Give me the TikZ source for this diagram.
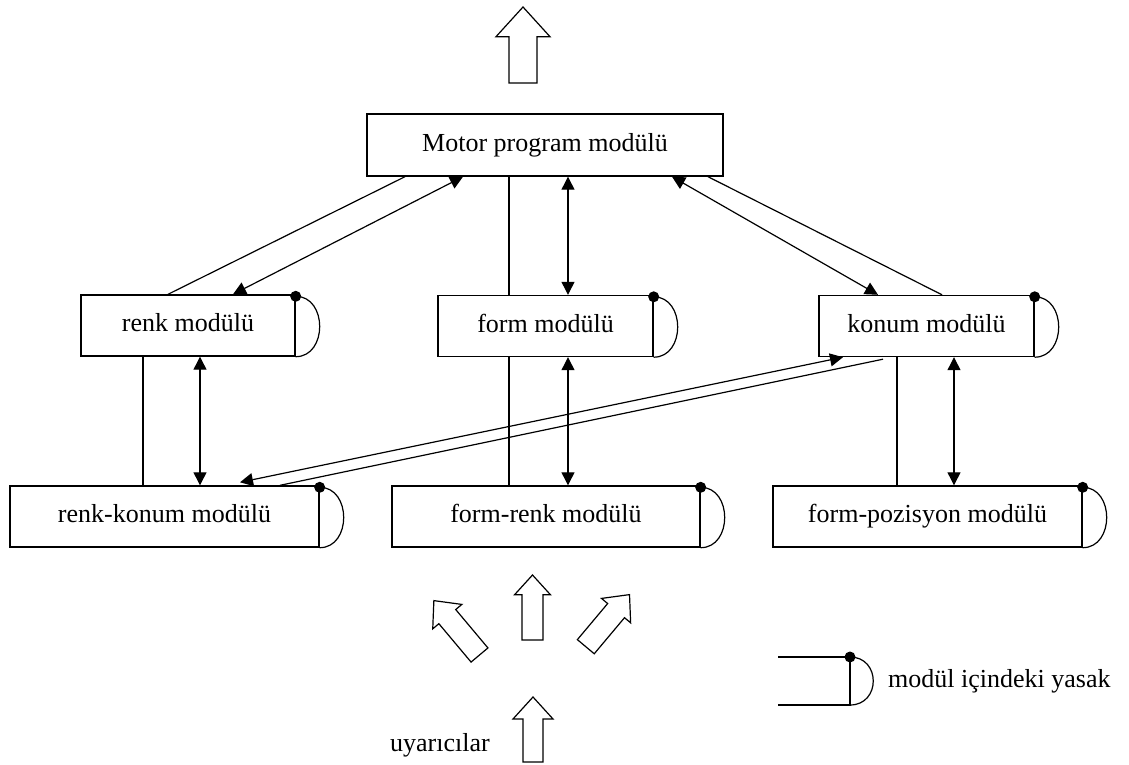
\documentclass[tikz,border=0pt]{standalone}
\usepackage{fontspec}
\setmainfont{Liberation Serif}
\usetikzlibrary{arrows.meta,positioning,calc}

\newcommand{\yasak}[1]{%
  \draw[thin line] ([yshift=-2]#1.north east) .. controls +(32,0) and +(32,0) .. (#1.south east);
  \fill ([yshift=-2]#1.north east) circle (5.5pt);}
% hollow block arrow, pointing up, base at origin
\newcommand{\hollowarrow}[5]{% shift, rotate, length, shaft, head
  \draw[thin line, fill=white, shift={#1}, rotate=#2]
    (-#4/2*1pt,0pt) -- (-#4/2*1pt,#3*1pt-#5*0.55pt) -- (-#5/2*1pt,#3*1pt-#5*0.55pt)
    -- (0pt,#3*1pt) -- (#5/2*1pt,#3*1pt-#5*0.55pt) -- (#4/2*1pt,#3*1pt-#5*0.55pt)
    -- (#4/2*1pt,0pt) -- cycle;}

\begin{document}
\begin{tikzpicture}[
    x=1pt, y=-1pt,
    font=\fontsize{26}{31}\selectfont,
    thin line/.style={line width=1.2pt},
    modul/.style={rectangle, draw, line width=1.4pt, inner sep=0pt, minimum height=61pt,
      text height=18pt, text depth=6pt, align=center},
    twoway/.style={thin line, {Triangle[length=13pt,width=13pt]}-{Triangle[length=13pt,width=13pt]}}
]
    \useasboundingbox (0,0) rectangle (1129,765);

    % Motor program
    \node[modul, minimum width=356pt, minimum height=62pt] (motor) at (545,145) {Motor program modülü};

    % Middle row
    \node[modul, minimum width=214pt] (renk) at (188,325.5) {renk modülü};
    \node[modul, minimum width=215pt] (form) at (545.5,326) {form modülü};
    \node[modul, minimum width=215pt] (konum) at (926.5,326) {konum modülü};

    % Bottom row
    \node[modul, minimum width=309pt] (renkkonum) at (164.5,516.5) {renk-konum modülü};
    \node[modul, minimum width=308pt] (formrenk) at (546,516.5) {form-renk modülü};
    \node[modul, minimum width=309pt] (formpoz) at (927.5,516.5) {form-pozisyon modülü};

    % Inhibition caps
    \yasak{renk} \yasak{form} \yasak{konum}
    \yasak{renkkonum} \yasak{formrenk} \yasak{formpoz}

    % Motor links
    \draw[thin line] ([xshift=-20]renk.north) -- ([xshift=-140]motor.south);
    \draw[twoway] ([xshift=45]renk.north) -- ([xshift=-82]motor.south);
    \draw[thin line] ([xshift=-36.5]form.north) -- ([xshift=-36.5]form.north |- motor.south);
    \draw[twoway] ([xshift=22.5]form.north) -- ([xshift=22.5]form.north |- motor.south);
    \draw[twoway] ([xshift=127]motor.south) -- ([xshift=-48.5]konum.north);
    \draw[thin line] ([xshift=163]motor.south) -- ([xshift=15.5]konum.north);

    % Vertical links
    \draw[thin line] ([xshift=-45]renk.south) -- ([xshift=-45]renk.south |- renkkonum.north);
    \draw[twoway] ([xshift=12]renk.south) -- ([xshift=12]renk.south |- renkkonum.north);
    \draw[thin line] ([xshift=-36.5]form.south) -- ([xshift=-36.5]form.south |- formrenk.north);
    \draw[twoway] ([xshift=22.5]form.south) -- ([xshift=22.5]form.south |- formrenk.north);
    \draw[thin line] ([xshift=-29.5]konum.south) -- ([xshift=-29.5]konum.south |- formpoz.north);
    \draw[twoway] ([xshift=27.5]konum.south) -- ([xshift=27.5]konum.south |- formpoz.north);

    % Cross links konum / renk-konum
    \draw[twoway] ([xshift=75.5,yshift=3]renkkonum.north) -- ([xshift=-83.5]konum.south);
    \draw[thin line] ([xshift=115.5]renkkonum.north) -- ([xshift=-43.5,yshift=-2]konum.south);

    % Block arrows
    \hollowarrow{(523,83)}{0}{76}{28}{54}
    \hollowarrow{(532.5,640)}{0}{65}{21}{36}
    \hollowarrow{(479.5,655)}{40}{71}{22}{38}
    \hollowarrow{(585.8,646.7)}{-40}{68}{22}{38}
    \hollowarrow{(533,762)}{0}{65}{20}{40}
    \node[anchor=base east, inner sep=0pt] (uyarici) at (490,751) {uyarıcılar};

    % Legend
    \coordinate (legtop) at (850,657);
    \coordinate (legbot) at (850,705);
    \draw[thin line] (778,657) -- (legtop) -- (legbot) -- (778,705);
    \draw[thin line] (legtop) .. controls +(31,0) and +(31,0) .. (legbot);
    \fill (legtop) circle (5.5pt);
    \node[anchor=west, inner sep=0pt] (legtext) at (888,681) {modül içindeki yasak};
\end{tikzpicture}
\end{document}
